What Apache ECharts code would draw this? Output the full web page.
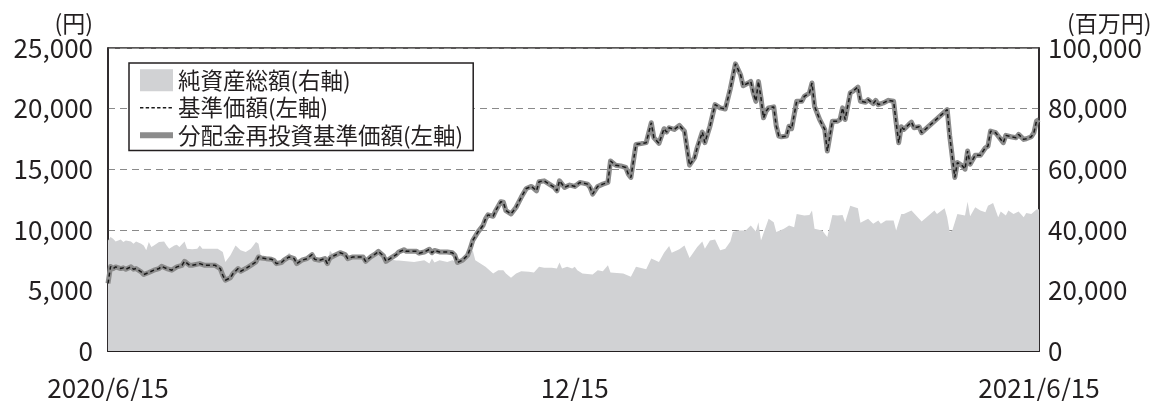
<!DOCTYPE html>
<html><head><meta charset="utf-8">
<script src="https://cdn.jsdelivr.net/npm/echarts@6/dist/echarts.min.js"></script>
<style>html,body{margin:0;padding:0;background:#fff}#c{width:1156px;height:401px}</style>
</head><body><div id="c"></div>
<script>
// ---- data ----
const seriesNames = ['純資産総額(右軸)', '基準価額(左軸)', '分配金再投資基準価額(左軸)'];
const leftUnit = '(円)';
const rightUnit = '(百万円)';
const startDate = '2020-06-15';
const endDate = '2021-06-15';
const midLabelDate = '2020-12-15';
const tickDates = ['2020-07-15','2020-08-15','2020-09-15','2020-10-15','2020-11-15','2020-12-15','2021-01-15','2021-02-15','2021-03-15','2021-04-15','2021-05-15'];
const leftTicks = [0, 5000, 10000, 15000, 20000, 25000];
const rightTicks = [0, 20000, 40000, 60000, 80000, 100000];

const navDates = ['2020-06-15','2020-06-16','2020-06-17','2020-06-18','2020-06-20','2020-06-21','2020-06-22','2020-06-24','2020-06-25','2020-06-26','2020-06-28','2020-06-29',
'2020-07-01','2020-07-03','2020-07-05','2020-07-06','2020-07-08','2020-07-10','2020-07-12','2020-07-14','2020-07-15','2020-07-17','2020-07-18','2020-07-21','2020-07-23','2020-07-27','2020-07-29','2020-07-30','2020-07-31',
'2020-08-02','2020-08-03','2020-08-05','2020-08-06','2020-08-08','2020-08-10','2020-08-12','2020-08-13','2020-08-14','2020-08-16','2020-08-18','2020-08-19','2020-08-20','2020-08-22','2020-08-23','2020-08-25','2020-08-27','2020-08-28','2020-08-30',
'2020-09-01','2020-09-03','2020-09-04','2020-09-06','2020-09-08','2020-09-09','2020-09-10','2020-09-12','2020-09-14','2020-09-16','2020-09-17','2020-09-19','2020-09-21','2020-09-23','2020-09-24','2020-09-26','2020-09-28','2020-09-29',
'2020-10-01','2020-10-02','2020-10-04','2020-10-06','2020-10-07','2020-10-09','2020-10-10','2020-10-12','2020-10-14','2020-10-15','2020-10-17','2020-10-19','2020-10-20','2020-10-21','2020-10-23','2020-10-26','2020-10-28','2020-10-29','2020-10-30',
'2020-11-01','2020-11-03','2020-11-04','2020-11-05','2020-11-07','2020-11-09','2020-11-10','2020-11-11','2020-11-13','2020-11-14','2020-11-16','2020-11-17','2020-11-18','2020-11-20','2020-11-22','2020-11-24','2020-11-26','2020-11-28','2020-11-30',
'2020-12-01','2020-12-03','2020-12-05','2020-12-07','2020-12-08','2020-12-09','2020-12-11','2020-12-13','2020-12-15','2020-12-17','2020-12-20','2020-12-21','2020-12-22','2020-12-24','2020-12-26','2020-12-28','2020-12-29','2020-12-31',
'2021-01-02','2021-01-04','2021-01-05','2021-01-06','2021-01-08','2021-01-10','2021-01-12','2021-01-14','2021-01-15','2021-01-17','2021-01-19','2021-01-20','2021-01-21','2021-01-23','2021-01-25','2021-01-27','2021-01-29','2021-01-31',
'2021-02-01','2021-02-03','2021-02-04','2021-02-06','2021-02-08','2021-02-10','2021-02-12','2021-02-14','2021-02-16','2021-02-18','2021-02-19','2021-02-21','2021-02-22','2021-02-23','2021-02-24','2021-02-25','2021-02-26','2021-02-27','2021-02-28',
'2021-03-01','2021-03-03','2021-03-04','2021-03-05','2021-03-06','2021-03-08','2021-03-09','2021-03-10','2021-03-12','2021-03-14','2021-03-15','2021-03-17','2021-03-18','2021-03-19','2021-03-21','2021-03-23','2021-03-24','2021-03-26','2021-03-28','2021-03-29','2021-03-30','2021-03-31',
'2021-04-02','2021-04-03','2021-04-05','2021-04-06','2021-04-08','2021-04-09','2021-04-11','2021-04-12','2021-04-13','2021-04-15','2021-04-17','2021-04-19','2021-04-20','2021-04-21','2021-04-22','2021-04-23','2021-04-25','2021-04-26','2021-04-27','2021-04-29','2021-04-30',
'2021-05-10','2021-05-11','2021-05-13','2021-05-14','2021-05-16','2021-05-17','2021-05-18','2021-05-19','2021-05-21','2021-05-23','2021-05-25','2021-05-26','2021-05-27','2021-05-29','2021-05-30',
'2021-06-01','2021-06-02','2021-06-04','2021-06-06','2021-06-07','2021-06-09','2021-06-10','2021-06-12','2021-06-13','2021-06-14','2021-06-15'];
const navValues = [5570,6970,6800,6940,6800,6860,6750,6940,6750,6800,6530,6310,
6480,6670,6800,6990,6800,6670,6940,7070,7400,7070,7070,7210,7070,7070,6800,6250,5840,
6040,6390,6800,6580,6800,7070,7350,7760,7680,7620,7570,7490,7210,7300,7490,7760,7620,7210,7490,
7620,7950,7570,7490,7620,7210,7680,7900,8110,7950,7620,7760,7760,7760,7400,7760,8030,8220,
7840,7400,7680,7950,8170,8360,8220,8220,8220,8070,8170,8390,8110,8300,8170,8170,8110,7900,7300,
7490,7900,8440,9120,9810,10350,10900,11230,11120,11580,12320,12270,11580,11310,11860,12680,13410,13580,13220,
13960,14040,13770,13500,13220,14040,13500,13690,13580,13910,13770,13500,12950,13580,13770,13910,15680,15330,
15270,15140,14590,14320,17050,17110,17190,18830,17600,17130,18340,18060,18420,18280,18610,18140,15330,15960,
16770,18060,17190,18550,20330,20060,19970,21650,23690,22790,21890,22110,22240,21290,20600,22240,20880,19240,19790,
20060,20140,18550,17730,17680,17730,18550,18340,20600,20600,21010,21290,22110,20190,19100,18280,16500,18960,18960,19100,20060,19100,
21290,21420,21780,20600,20520,20740,20410,20680,20330,20470,20680,20600,18830,17190,18500,18280,18690,18880,18420,18500,18010,
19920,17730,14320,15550,15270,15000,16500,15410,16150,16150,16770,16910,18140,18010,17730,
17190,17790,17680,17600,17870,17460,17510,17680,18010,18960,19100];
// 分配金なし: 分配金再投資基準価額 = 基準価額
const reinvValues = navValues.slice();

const aumDates = ['2020-06-15','2020-06-16','2020-06-17','2020-06-18','2020-06-20','2020-06-21','2020-06-22','2020-06-24','2020-06-25','2020-06-26','2020-06-28','2020-06-29','2020-06-30',
'2020-07-01','2020-07-02','2020-07-03','2020-07-05','2020-07-07','2020-07-08','2020-07-09','2020-07-11','2020-07-12','2020-07-13','2020-07-15','2020-07-16','2020-07-18','2020-07-20','2020-07-21','2020-07-22','2020-07-24','2020-07-27','2020-07-28','2020-07-30','2020-07-31',
'2020-08-02','2020-08-04','2020-08-06','2020-08-08','2020-08-10','2020-08-11','2020-08-12','2020-08-13','2020-08-14','2020-08-16','2020-08-18','2020-08-20','2020-08-22','2020-08-25','2020-08-27','2020-08-28','2020-08-30',
'2020-09-01','2020-09-03','2020-09-04','2020-09-06','2020-09-08','2020-09-09','2020-09-10','2020-09-12','2020-09-14','2020-09-16','2020-09-18','2020-09-21','2020-09-23','2020-09-24','2020-09-26','2020-09-28','2020-09-29',
'2020-10-01','2020-10-02','2020-10-04','2020-10-06','2020-10-07','2020-10-11','2020-10-13','2020-10-17','2020-10-19','2020-10-20','2020-10-21','2020-10-23','2020-10-26','2020-10-28','2020-10-30',
'2020-11-01','2020-11-03','2020-11-05','2020-11-06','2020-11-08','2020-11-10','2020-11-13','2020-11-15','2020-11-17','2020-11-18','2020-11-20','2020-11-22','2020-11-24','2020-11-27','2020-11-29',
'2020-12-01','2020-12-03','2020-12-06','2020-12-08','2020-12-09','2020-12-10','2020-12-12','2020-12-14','2020-12-15','2020-12-16','2020-12-18','2020-12-22','2020-12-24','2020-12-26','2020-12-28','2020-12-29',
'2021-01-03','2021-01-06','2021-01-08','2021-01-12','2021-01-14','2021-01-17','2021-01-19','2021-01-21','2021-01-22','2021-01-25','2021-01-27','2021-01-29',
'2021-02-01','2021-02-03','2021-02-04','2021-02-06','2021-02-08','2021-02-10','2021-02-12','2021-02-14','2021-02-15','2021-02-17','2021-02-20','2021-02-22','2021-02-24','2021-02-25','2021-02-26',
'2021-03-01','2021-03-03','2021-03-04','2021-03-07','2021-03-09','2021-03-11','2021-03-12','2021-03-15','2021-03-17','2021-03-18','2021-03-19','2021-03-22','2021-03-24','2021-03-26','2021-03-28','2021-03-30','2021-03-31',
'2021-04-02','2021-04-05','2021-04-06','2021-04-09','2021-04-11','2021-04-13','2021-04-14','2021-04-16','2021-04-19','2021-04-20','2021-04-22','2021-04-23','2021-04-26','2021-04-30',
'2021-05-05','2021-05-06','2021-05-09','2021-05-10','2021-05-11','2021-05-12','2021-05-14','2021-05-17','2021-05-18','2021-05-19','2021-05-21','2021-05-23','2021-05-25','2021-05-26','2021-05-28','2021-05-30','2021-05-31',
'2021-06-02','2021-06-03','2021-06-05','2021-06-07','2021-06-09','2021-06-10','2021-06-12','2021-06-14','2021-06-15'];
const aumValues = [36490,37600,37050,36170,36830,35970,36490,36170,35410,36170,35410,34850,33210,
35970,34330,34850,35970,36170,34850,33770,34850,35080,34330,36170,33770,33540,33770,34850,33770,33770,33770,33770,32690,29410,
31570,34850,33210,32690,33770,34850,35970,35410,31050,29840,29510,28520,28850,32460,30160,28520,29510,
29840,31150,29840,29510,30160,28520,33110,31150,32130,31150,30160,30490,30490,29180,30490,31800,33110,
30820,29180,30160,29840,29840,29510,29410,29930,28850,30490,29180,29930,29410,29930,29410,
30710,31570,33210,29930,28850,27770,25570,26660,26660,25570,24160,25570,26330,26120,25900,
27770,27440,27440,27210,29180,27210,27770,27210,27770,26660,25570,25250,26660,26330,28300,25900,
25570,24490,27770,26990,30490,29410,32460,34660,32460,33540,34850,30710,
34330,36170,33770,36490,36830,33210,33770,36170,39250,39790,39790,41430,39460,42520,36490,
43610,42520,39250,40330,41430,40870,45250,44690,44910,46330,40330,39790,37610,44910,44690,44910,42520,
47970,47090,42300,43610,41970,43050,41970,43050,43050,39790,45250,45250,46330,42730,
46330,45250,47090,44160,39250,39790,45250,44690,49280,44470,47420,46330,45800,47970,48850,44160,46000,
44690,46330,45250,46000,44160,45580,45250,46660,46770];

// ---- helpers ----
function ts(s){ const p = s.split('-').map(Number); return Date.UTC(p[0], p[1]-1, p[2]); }
function pairs(dates, vals){ return dates.map((d,i)=>[ts(d), vals[i]]); }
function fmt(v){ return Number(v).toLocaleString('en-US'); }

const FONT = '"Noto Sans CJK JP", "Noto Sans", sans-serif';
const TXT = '#231f20';
const MID = ts(midLabelDate);
const AREA = '#d1d2d4';
const THICK = '#8c8c8c';

// legend icons (shapes only): anchors keep the 33x22 box
const ANCHORS = 'M0,0L0.01,0L0,0.01Z M33,22L32.99,22L33,21.99Z';
function dashIcon(){ let p = 'path://' + ANCHORS; for (let x = 0; x < 33; x += 5.7) { const w = Math.min(3.4, 33 - x); p += ' M'+x+',10.2L'+(x+w)+',10.2L'+(x+w)+',11.8L'+x+',11.8Z'; } return p; }
const barIcon = 'path://' + ANCHORS + ' M0,8L33,8L33,14L0,14Z';

const chart = echarts.init(document.getElementById('c'), null, {renderer:'canvas'});
chart.setOption({
  animation:false,
  backgroundColor:'#fff',
  textStyle:{fontFamily:FONT, color:TXT},
  grid:{left:108, right:117, top:48, bottom:48, show:true, borderColor:TXT, borderWidth:1.5, backgroundColor:'transparent'},
  legend:{
    left:129, top:63, orient:'vertical',
    backgroundColor:'#fff', borderColor:TXT, borderWidth:1.5,
    padding:[6,10,4,11], itemGap:5, itemWidth:33, itemHeight:22,
    textStyle:{fontFamily:FONT, fontSize:22.5, color:TXT},
    data:[
      {name:seriesNames[0], icon:'rect', itemStyle:{color:AREA, borderWidth:0}},
      {name:seriesNames[1], icon:dashIcon(), itemStyle:{color:'#1a1a1a', borderWidth:0}},
      {name:seriesNames[2], icon:barIcon, itemStyle:{color:THICK, borderWidth:0}}
    ]
  },
  xAxis:{
    type:'value', min:ts(startDate), max:ts(endDate),
    axisLine:{show:true, lineStyle:{color:TXT, width:2}},
    axisTick:{show:true, inside:true, length:7, lineStyle:{color:TXT, width:1.5}, customValues:tickDates.map(ts)},
    axisLabel:{customValues:[ts(startDate), MID, ts(endDate)], fontSize:26, color:TXT, margin:24, fontFamily:FONT,
      formatter:function(v){ const d=new Date(v); const md=(d.getUTCMonth()+1)+'/'+d.getUTCDate(); return (Math.abs(v-MID)<1000)? md : d.getUTCFullYear()+'/'+md; }},
    splitLine:{show:false}
  },
  yAxis:[
    {type:'value', min:leftTicks[0], max:leftTicks[leftTicks.length-1], interval:leftTicks[1]-leftTicks[0], position:'left',
     name:leftUnit, nameLocation:'end', nameGap:0,
     nameTextStyle:{fontFamily:FONT, fontSize:23, color:TXT, align:'right', verticalAlign:'bottom', padding:[0,15,0,0]},
     axisLine:{show:true, lineStyle:{color:TXT, width:1.5}}, axisTick:{show:false},
     axisLabel:{fontSize:26, color:TXT, margin:15, fontFamily:FONT, formatter:fmt, padding:[5,0,0,0]},
     splitLine:{show:true, lineStyle:{color:'#8a8a8a', width:1.2, type:[7,5]}}},
    {type:'value', min:rightTicks[0], max:rightTicks[rightTicks.length-1], interval:rightTicks[1]-rightTicks[0], position:'right',
     name:rightUnit, nameLocation:'end', nameGap:0,
     nameTextStyle:{fontFamily:FONT, fontSize:23, color:TXT, align:'left', verticalAlign:'bottom', padding:[0,0,0,28]},
     axisLine:{show:true, lineStyle:{color:TXT, width:1.5}}, axisTick:{show:false},
     axisLabel:{fontSize:26, color:TXT, margin:9, fontFamily:FONT, formatter:fmt, padding:[5,0,0,0]},
     splitLine:{show:false}}
  ],
  series:[
    {name:seriesNames[0], type:'line', yAxisIndex:1, data:pairs(aumDates, aumValues), symbol:'none',
     lineStyle:{width:0, color:AREA}, itemStyle:{color:AREA}, areaStyle:{color:AREA, opacity:1}, z:1},
    {name:seriesNames[2], type:'line', yAxisIndex:0, data:pairs(navDates, reinvValues), symbol:'none',
     lineStyle:{width:5, color:THICK, join:'round'}, itemStyle:{color:THICK}, z:3},
    {name:seriesNames[1], type:'line', yAxisIndex:0, data:pairs(navDates, navValues), symbol:'none',
     lineStyle:{width:1.5, color:'#1a1a1a', type:[4,3]}, itemStyle:{color:'#1a1a1a'}, z:4}
  ]
});
</script></body></html>
